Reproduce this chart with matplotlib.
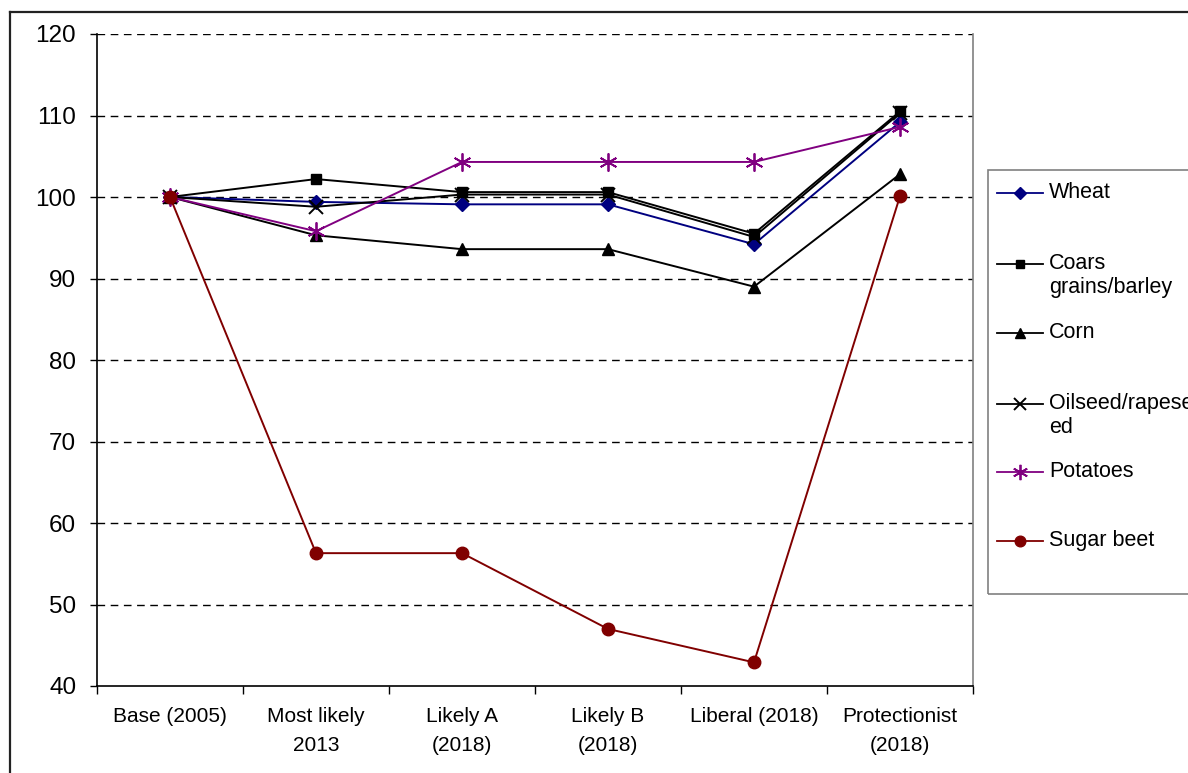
import matplotlib
matplotlib.use("Agg")
import matplotlib.pyplot as plt
from matplotlib.lines import Line2D
from matplotlib.patches import Rectangle

plt.rcParams['font.family'] = ['Liberation Sans', 'DejaVu Sans']

categories = ["Base (2005)", "Most likely\n2013", "Likely A\n(2018)",
              "Likely B\n(2018)", "Liberal (2018)", "Protectionist\n(2018)"]

wheat = [100, 99.4, 99.1, 99.1, 94.2, 109.2]
coarse_grains = [100, 102.2, 100.6, 100.6, 95.5, 110.5]
corn = [100, 95.3, 93.6, 93.6, 89.0, 102.8]
oilseed = [100, 98.8, 100.3, 100.3, 95.1, 110.3]
potatoes = [100, 95.8, 104.3, 104.3, 104.3, 108.6]
sugar_beet = [100, 56.3, 56.3, 47.0, 42.9, 100.1]

series_names = ["Wheat", "Coars\ngrains/barley", "Corn",
                "Oilseed/rapese\ned", "Potatoes", "Sugar beet"]
series_values = [wheat, coarse_grains, corn, oilseed, potatoes, sugar_beet]
series_styles = [
    dict(color="#000080", marker="D", ms=7.5, mfc="#000080", mec="#000080"),
    dict(color="black", marker="s", ms=7, mfc="black", mec="black"),
    dict(color="black", marker="^", ms=8.5, mfc="black", mec="black"),
    dict(color="black", marker="x", ms=10, mew=1.4),
    dict(color="#800080", marker=(6, 2, 0), ms=13, mew=1.3),
    dict(color="#800000", marker="o", ms=9, mfc="#800000", mec="#800000"),
]

W, H = 1188, 773
fig = plt.figure(figsize=(W / 100, H / 100), dpi=100)

# axes area in pixel coordinates
ax_l, ax_r, ax_t, ax_b = 97, 973, 34, 686
ax = fig.add_axes([ax_l / W, 1 - ax_b / H, (ax_r - ax_l) / W, (ax_b - ax_t) / H])

x = list(range(len(categories)))
for vals, style in zip(series_values, series_styles):
    ax.plot(x, vals, lw=1.4, zorder=3, clip_on=False, **style)

ax.set_xlim(-0.5, len(categories) - 0.5)
ax.set_ylim(40, 120)
ax.set_yticks(range(40, 121, 10))
ax.set_yticklabels([str(v) for v in range(40, 121, 10)], fontsize=17.5)
for v in range(50, 121, 10):
    ax.axhline(v, color="black", lw=1.0, ls=(0, (5.5, 4)), zorder=1)

ax.set_xticks([i for i in x])
ax.set_xticklabels(categories, fontsize=15, linespacing=1.65)
ax.set_xticks([i - 0.5 for i in range(len(categories) + 1)], minor=True)
ax.tick_params(axis="x", which="major", length=0, pad=15)
ax.tick_params(axis="x", which="minor", length=6, width=1, direction="out")
ax.tick_params(axis="y", length=5, width=1, direction="out", pad=10)

for side in ["left", "bottom"]:
    ax.spines[side].set_color("black")
    ax.spines[side].set_linewidth(1.2)
ax.spines["top"].set_visible(False)
ax.spines["right"].set_color("#808080")
ax.spines["right"].set_linewidth(1.2)

# outer chart border
fig.add_artist(Line2D([10 / W, 10 / W], [0, 1 - 12 / H], transform=fig.transFigure,
                      color="#222222", lw=1.6))
fig.add_artist(Line2D([10 / W, 1], [1 - 12 / H, 1 - 12 / H], transform=fig.transFigure,
                      color="#222222", lw=1.6))

# legend box
fig.add_artist(Rectangle((988 / W, 1 - 594 / H), 220 / W, (594 - 170) / H,
                         transform=fig.transFigure, fill=False,
                         edgecolor="#808080", lw=1.2))
legend_rows = [193, 264, 333, 404, 472, 541]
for name, style, yp in zip(series_names, series_styles, legend_rows):
    yf = 1 - yp / H
    fig.add_artist(Line2D([997 / W, 1043 / W], [yf, yf], transform=fig.transFigure,
                          lw=1.3, color=style["color"]))
    mk = dict(style)
    mk.pop("color")
    fig.add_artist(Line2D([1020 / W], [yf], transform=fig.transFigure,
                          color=style["color"], ls="none",
                          **{k: (v * 0.85 if k == "ms" else v) for k, v in mk.items()}))
    fig.text(1049 / W, 1 - (yp - 11) / H, name, fontsize=15.5, va="top", ha="left",
             linespacing=1.2)

fig.savefig("out.png", dpi=100)
